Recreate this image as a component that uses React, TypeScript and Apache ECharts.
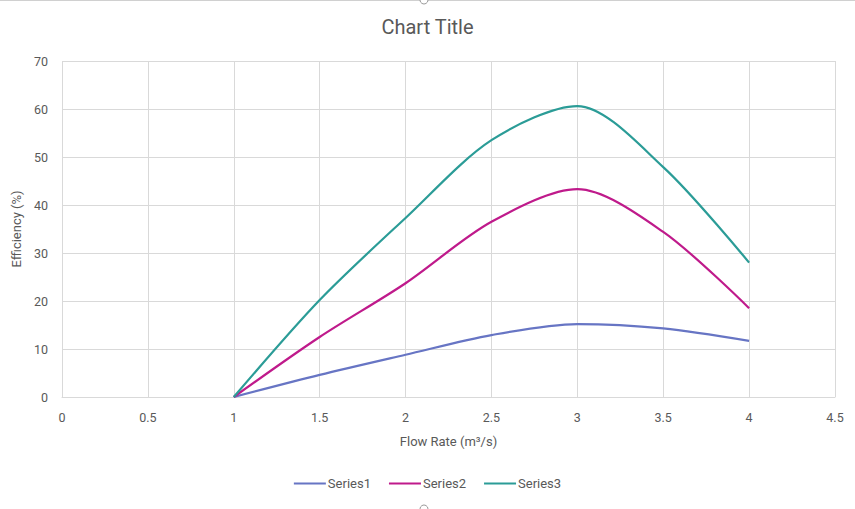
import React, { useEffect, useRef } from "react";
import * as echarts from "echarts";

const xValues = [1, 1.5, 2, 2.5, 3, 3.5, 4];
const series1 = [0, 4.6, 8.8, 12.9, 15.2, 14.3, 11.7];
const series2 = [0, 12.5, 23.7, 36.5, 43.3, 34.4, 18.5];
const series3 = [0, 20.2, 37.3, 53.5, 60.6, 47.9, 28.0];
const seriesNames = ["Series1", "Series2", "Series3"];
const seriesColors = ["#6775c4", "#bf1a8b", "#2b9c97"];

export default function App() {
  const ref = useRef<HTMLDivElement>(null);
  useEffect(() => {
    if (!ref.current) return;
    const chart = echarts.init(ref.current, null, { renderer: "svg" });
    const allData = [series1, series2, series3];
    const font = "Roboto, 'Open Sans', sans-serif";
    chart.setOption({
      animation: false,
      backgroundColor: "#ffffff",
      textStyle: { fontFamily: font },
      title: {
        text: "Chart Title",
        left: "center",
        top: 12,
        textStyle: { fontSize: 20, fontWeight: "normal", color: "#595959", fontFamily: font },
      },
      legend: {
        bottom: 14,
        left: "center",
        itemWidth: 32,
        itemHeight: 2,
        itemGap: 18,
        icon: "rect",
        textStyle: { fontSize: 13, color: "#595959", padding: [0, 0, 0, -3] },
        data: seriesNames,
      },
      grid: { left: 62, right: 20, top: 61, bottom: 112, containLabel: false },
      xAxis: {
        type: "value",
        min: 0,
        max: 4.5,
        interval: 0.5,
        name: "Flow Rate (m³/s)",
        nameLocation: "middle",
        nameGap: 38,
        nameTextStyle: { fontSize: 13, color: "#595959" },
        axisLine: { show: true, lineStyle: { color: "#d9d9d9" } },
        axisTick: { show: false },
        axisLabel: { fontSize: 12.5, color: "#595959", margin: 14 },
        splitLine: { show: true, lineStyle: { color: "#d9d9d9", width: 1 } },
      },
      yAxis: {
        type: "value",
        min: 0,
        max: 70,
        interval: 10,
        name: "Efficiency (%)",
        nameLocation: "middle",
        nameGap: 38,
        nameRotate: 90,
        nameTextStyle: { fontSize: 13, color: "#595959" },
        axisLine: { show: false },
        axisTick: { show: false },
        axisLabel: { fontSize: 12.5, color: "#595959", margin: 14 },
        splitLine: { show: true, lineStyle: { color: "#d9d9d9", width: 1 } },
      },
      series: seriesNames.map((name, i) => ({
        name,
        type: "line",
        smooth: 0.3,
        showSymbol: false,
        symbol: "none",
        lineStyle: { width: 2.2, color: seriesColors[i] },
        itemStyle: { color: seriesColors[i] },
        data: xValues.map((x, j) => [x, allData[i][j]]),
      })),
      graphic: [
        { type: "line", shape: { x1: 0, y1: 0.5, x2: 855, y2: 0.5 }, style: { stroke: "#d0d0d0", lineWidth: 1 } },
        { type: "circle", shape: { cx: 424, cy: 0, r: 4 }, style: { fill: "#fff", stroke: "#9a9a9a", lineWidth: 1 } },
        { type: "circle", shape: { cx: 424, cy: 509, r: 4 }, style: { fill: "#fff", stroke: "#9a9a9a", lineWidth: 1 } },
      ],
    });
    return () => chart.dispose();
  }, []);
  return <div ref={ref} style={{ width: 855, height: 509, position: "absolute", left: 0, top: 0 }} />;
}
